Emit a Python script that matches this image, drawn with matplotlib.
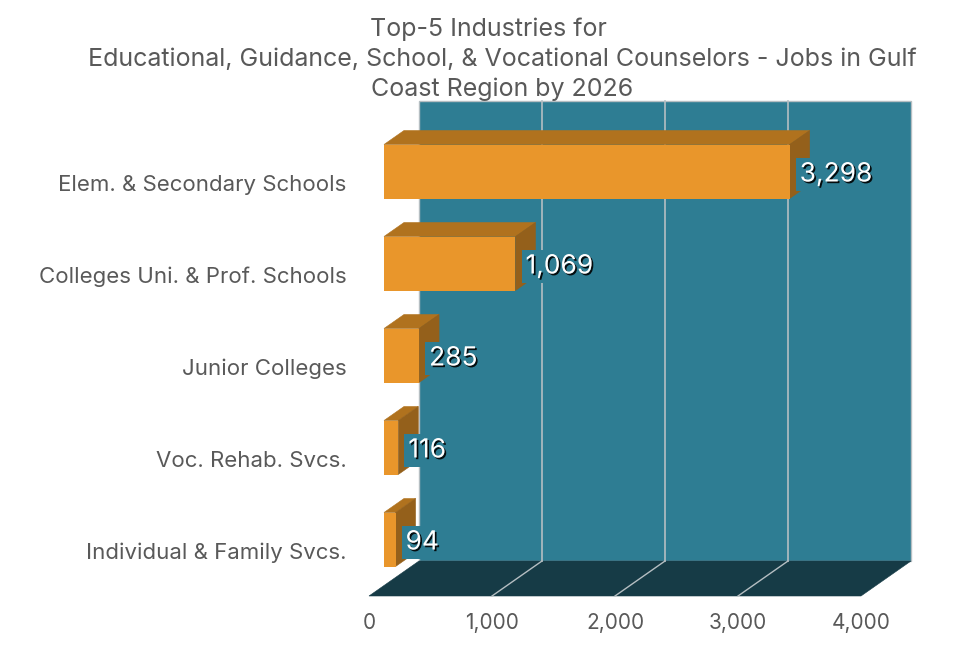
import matplotlib

matplotlib.use("Agg")
import matplotlib.patheffects as pe
import matplotlib.pyplot as plt
from matplotlib.patches import Polygon, Rectangle

plt.rcParams["font.family"] = ["Inter", "DejaVu Sans"]

categories = [
    "Elem. & Secondary Schools",
    "Colleges Uni. & Prof. Schools",
    "Junior Colleges",
    "Voc. Rehab. Svcs.",
    "Individual & Family Svcs.",
]
jobs = [3298, 1069, 285, 116, 94]
value_ticks = [0, 1000, 2000, 3000, 4000]
title_lines = [
    "Top-5 Industries for    ",
    "Educational, Guidance, School, & Vocational Counselors - Jobs in Gulf",
    "Coast Region by 2026",
]

WALL = "#2E7D93"
FLOOR = "#163B46"
FRONT = "#E9962B"
TOP = "#B0721E"
SIDE = "#94601B"
GRID = "#B5BEC2"
TEXT = "#595959"

# oblique depth of the fake 3D box, in data units
DEPTH_X = 50 / 0.123
DEPTH_Y = -35 / 92
BAR_HEIGHT = 54 / 92
BAR_SHIFT = 0.3
BAR_DEPTH = 0.4

fig = plt.figure(figsize=(9.75, 6.56), dpi=100)
ax = fig.add_axes([369 / 975, 60 / 656, 492 / 975, 460 / 656])
ax.set_xlim(0, 4000)
ax.set_ylim(5, 0)
for spine in ax.spines.values():
    spine.set_visible(False)
ax.patch.set_visible(False)


def add_poly(points, color, zorder):
    ax.add_patch(
        Polygon(points, closed=True, facecolor=color, edgecolor=color, linewidth=0.4, clip_on=False, zorder=zorder)
    )


# back wall and floor
ax.add_patch(
    Rectangle((DEPTH_X, DEPTH_Y), 4000, 5, facecolor=WALL, edgecolor=GRID, linewidth=1.0, clip_on=False, zorder=1)
)
add_poly(
    [(0, 5), (4000, 5), (4000 + DEPTH_X, 5 + DEPTH_Y), (DEPTH_X, 5 + DEPTH_Y)],
    FLOOR,
    2,
)
for tick in value_ticks[1:-1]:
    ax.plot([tick + DEPTH_X] * 2, [DEPTH_Y, 5 + DEPTH_Y], color=GRID, linewidth=1.2, clip_on=False, zorder=3)
    ax.plot([tick, tick + DEPTH_X], [5, 5 + DEPTH_Y], color=GRID, linewidth=1.0, clip_on=False, zorder=3)

# bars, front face plus top and side
shift_x = DEPTH_X * BAR_SHIFT
shift_y = DEPTH_Y * BAR_SHIFT
bar_dx = DEPTH_X * BAR_DEPTH
bar_dy = DEPTH_Y * BAR_DEPTH
for index, value in enumerate(jobs):
    center = index + 0.5 + shift_y
    upper = center - BAR_HEIGHT / 2
    lower = center + BAR_HEIGHT / 2
    left = shift_x
    right = value + shift_x
    add_poly(
        [(left, upper), (right, upper), (right + bar_dx, upper + bar_dy), (left + bar_dx, upper + bar_dy)],
        TOP,
        4,
    )
    add_poly(
        [(right, upper), (right + bar_dx, upper + bar_dy), (right + bar_dx, lower + bar_dy), (right, lower)],
        SIDE,
        4,
    )
    ax.barh(center, value, left=left, height=BAR_HEIGHT, color=FRONT, linewidth=0, clip_on=False, zorder=5)
    label = ax.annotate(
        f"{value:,}",
        (right, center),
        xytext=(10, -3),
        textcoords="offset pixels",
        ha="left",
        va="center",
        color="white",
        fontsize=19,
        zorder=7,
        bbox=dict(boxstyle="square,pad=0.15", facecolor=WALL, edgecolor="none"),
        annotation_clip=False,
    )
    label.set_path_effects([pe.withSimplePatchShadow(offset=(1.2, -1.2), shadow_rgbFace="black", alpha=0.9)])

ax.set_xticks(value_ticks, [f"{tick:,}" for tick in value_ticks])
ax.set_yticks([i + 0.51 for i in range(len(categories))], categories)
ax.tick_params(axis="x", length=0, pad=12, labelsize=15, labelcolor=TEXT)
ax.tick_params(axis="y", length=0, pad=16, labelsize=16, labelcolor=TEXT)

for line, y_pos in zip(title_lines, [29, 59, 89]):
    fig.text(502 / 975, 1 - y_pos / 656, line, ha="center", va="center", color=TEXT, fontsize=18)

fig.savefig("out.png", dpi=100)
plt.close(fig)
